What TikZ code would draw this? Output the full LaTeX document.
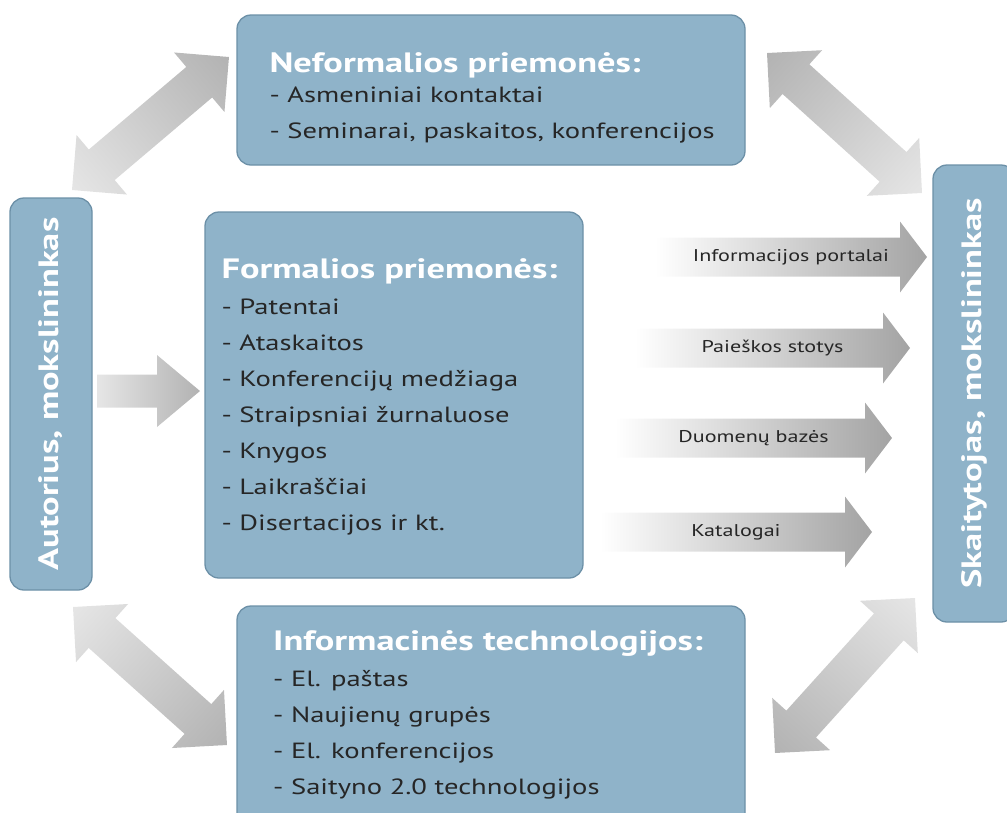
\documentclass[tikz,border=0pt]{standalone}
\usepackage{fontspec}
\setmainfont{PT Sans}[FakeStretch=1.3]
\usetikzlibrary{calc,positioning}

\definecolor{boxblue}{RGB}{143,179,201}
\definecolor{boxedge}{RGB}{108,144,167}
\definecolor{itemtext}{RGB}{38,38,38}

\tikzset{
  panel/.style={draw=boxedge, fill=boxblue, line width=1.3pt, rounded corners=14pt, inner sep=0pt},
  paneltext/.style={anchor=west, align=left, text=itemtext, inner sep=0pt, font=\fontsize{22pt}{36pt}\selectfont},
  sidetext/.style={rotate=90, text=white, font=\bfseries\fontsize{28pt}{30pt}\selectfont},
  arrowlabel/.style={text=itemtext, font=\fontsize{17pt}{20pt}\selectfont},
  fadearrow/.style={left color=white, right color=black!36},
  linkarrow/.style={left color=black!10, right color=black!30}
}

\newcommand\paneltitle[1]{{\color{white}\bfseries\fontsize{28pt}{36pt}\selectfont #1}}

% angle, length and start of the segment #1 -> #2
\newcommand\getarrow[2]{%
  \path let \p1=(#1), \p2=(#2) in
    \pgfextra{\pgfmathsetmacro\arrang{atan2(\y2-\y1,\x2-\x1)}%
      \pgfmathsetmacro\arrlen{veclen(\x2-\x1,\y2-\y1)}%
      \xdef\arrang{\arrang}\xdef\arrlen{\arrlen}\xdef\arrx{\x1}\xdef\arry{\y1}};}

% style, from, to, shaft half width, head half width, head length
\newcommand\onewayarrow[6]{%
  \getarrow{#2}{#3}
  \begin{scope}[transform canvas={shift={(\arrx,\arry)},rotate=\arrang}]
    \path[#1] (0,-#4) -- ({\arrlen-#6},-#4) -- ({\arrlen-#6},-#5) -- (\arrlen,0)
      -- ({\arrlen-#6},#5) -- ({\arrlen-#6},#4) -- (0,#4) -- cycle;
  \end{scope}}

\newcommand\twowayarrow[6]{%
  \getarrow{#2}{#3}
  \begin{scope}[transform canvas={shift={(\arrx,\arry)},rotate=\arrang}]
    \path[#1] (0,0) -- (#6,#5) -- (#6,#4) -- ({\arrlen-#6},#4) -- ({\arrlen-#6},#5)
      -- (\arrlen,0) -- ({\arrlen-#6},-#5) -- ({\arrlen-#6},-#4) -- (#6,-#4) -- (#6,-#5) -- cycle;
  \end{scope}}

\begin{document}
\begin{tikzpicture}[x=1pt, y=1pt]
  \useasboundingbox (0,0) rectangle (1007,-812);

  % Langeliai
  \node[panel, minimum width=508pt, minimum height=150pt] (neform) at (491,-90) {};
  \node[panel, minimum width=378pt, minimum height=366pt] (formal) at (394,-395) {};
  \node[panel, minimum width=508pt, minimum height=226pt] (infotech) at (491,-719) {};
  \node[panel, minimum width=82pt, minimum height=392pt] (author) at (51,-394) {};
  \node[panel, minimum width=82pt, minimum height=457pt] (reader) at (974,-393.5) {};

  \node[sidetext] (author-txt) at (author.center) {Autorius, mokslininkas};
  \node[sidetext] (reader-txt) at (reader.center) {Skaitytojas, mokslininkas};

  \node[paneltext] (neform-txt) at ($(neform.west)+(33,-8)$)
    {\paneltitle{Neformalios priemonės:}\\[-6pt]- Asmeniniai kontaktai\\- Seminarai, paskaitos, konferencijos};
  \node[paneltext] (formal-txt) at ($(formal.west)+(17,-2)$)
    {\paneltitle{Formalios priemonės:}\\- Patentai\\- Ataskaitos\\- Konferencijų medžiaga\\- Straipsniai žurnaluose\\- Knygos\\- Laikraščiai\\- Disertacijos ir kt.};
  \node[paneltext] (infotech-txt) at (273,-715)
    {\paneltitle{Informacinės technologijos:}\\- El. paštas\\- Naujienų grupės\\- El. konferencijos\\- Saityno 2.0 technologijos};

  % Rodykliu galai
  \coordinate (tl-a) at (72,-190);  \coordinate (tl-b) at (229,-57);
  \coordinate (tr-a) at (922,-193); \coordinate (tr-b) at (767,-53);
  \coordinate (bl-a) at (73,-607);  \coordinate (bl-b) at (227,-745);
  \coordinate (br-a) at (915,-598); \coordinate (br-b) at (775,-753);
  \coordinate (give-a) at (97,-391); \coordinate (give-b) at (200,-391);

  \coordinate (portal-a) at (655,-257);  \coordinate (portal-b) at (927,-257);
  \coordinate (search-a) at (635,-348);  \coordinate (search-b) at (910,-348);
  \coordinate (dbase-a) at (615,-438);   \coordinate (dbase-b) at (892,-438);
  \coordinate (catalog-a) at (600,-532); \coordinate (catalog-b) at (872,-532);

  \twowayarrow{linkarrow}{tl-a}{tl-b}{20}{39}{39}
  \twowayarrow{linkarrow}{tr-a}{tr-b}{20}{39}{39}
  \twowayarrow{linkarrow}{bl-a}{bl-b}{20}{39}{39}
  \twowayarrow{linkarrow}{br-a}{br-b}{20}{39}{39}
  \onewayarrow{linkarrow}{give-a}{give-b}{16.5}{36}{43}

  \onewayarrow{fadearrow}{portal-a}{portal-b}{19.5}{35.5}{27}
  \onewayarrow{fadearrow}{search-a}{search-b}{19.5}{35.5}{27}
  \onewayarrow{fadearrow}{dbase-a}{dbase-b}{19.5}{35.5}{27}
  \onewayarrow{fadearrow}{catalog-a}{catalog-b}{19.5}{35.5}{27}

  \node[arrowlabel] (portal-lbl) at ($(portal-a)!0.5!(portal-b)$) {Informacijos portalai};
  \node[arrowlabel] (search-lbl) at ($(search-a)!0.5!(search-b)$) {Paieškos stotys};
  \node[arrowlabel] (dbase-lbl) at ($(dbase-a)!0.5!(dbase-b)$) {Duomenų bazės};
  \node[arrowlabel] (catalog-lbl) at ($(catalog-a)!0.5!(catalog-b)$) {Katalogai};
\end{tikzpicture}
\end{document}
